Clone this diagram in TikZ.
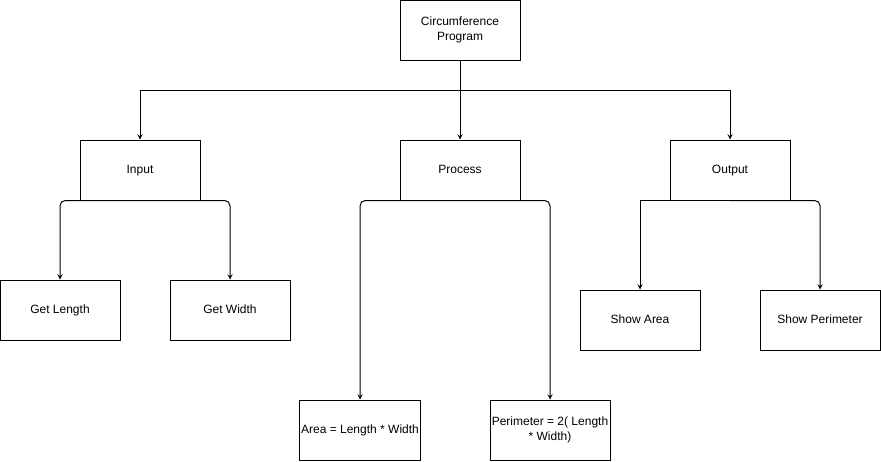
\documentclass[tikz,border=0pt]{standalone}
\usepackage{fontspec}
\setmainfont{Liberation Sans}
\begin{document}
\begin{tikzpicture}[x=.75pt,y=-.75pt,>=stealth,line width=.75pt,
  box/.style={draw,minimum width=90pt,minimum height=45pt,inner sep=1pt,
    align=center,font=\fontsize{9}{11}\selectfont},
  onebox/.style={box,text height=6.5pt,text depth=1.2pt}]
  \useasboundingbox (0,0) rectangle (881,461);
  \node[box] (prog) at (460,30) {Circumference\\Program};
  \node[onebox] (input) at (140,170) {Input};
  \node[onebox] (proc) at (460,170) {Process};
  \node[onebox] (output) at (730,170) {Output};
  \node[onebox] (len) at (60,310) {Get Length};
  \node[onebox] (wid) at (230,310) {Get Width};
  \node[onebox] (area) at (360,430) {Area = Length * Width};
  \node[box] (perim) at (550,430) {Perimeter = 2( Length\\{}* Width)};
  \node[onebox] (sarea) at (640,320) {Show Area};
  \node[onebox] (sper) at (820,320) {Show Perimeter};
  \coordinate (j) at (460,90);
  \draw (prog.south)--(j);
  \draw[->] (j)-|(input.north);
  \draw[->] (j)-|(output.north);
  \draw[->] (j)--(proc.north);
  \draw[->,rounded corners=4pt] (input.south)-|(len.north);
  \draw[->,rounded corners=4pt] (input.south)-|(wid.north);
  \draw[->,rounded corners=4pt] (proc.south)-|(area.north);
  \draw[->,rounded corners=4pt] (proc.south)-|(perim.north);
  \draw[->] (output.south)-|(sarea.north);
  \draw[->,rounded corners=4pt] (output.south)-|(sper.north);
\end{tikzpicture}
\end{document}
